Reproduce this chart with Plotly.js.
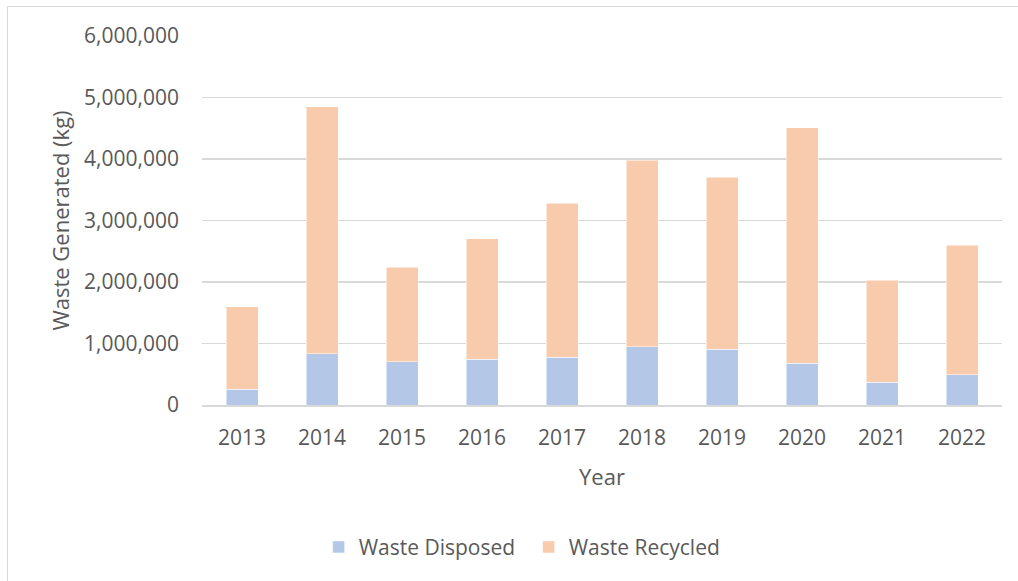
<!DOCTYPE html>
<html>
<head>
<meta charset="utf-8">
<script src="https://cdn.plot.ly/plotly-3.0.1.min.js"></script>
<style>
  html, body { margin: 0; padding: 0; background: #fff; }
  #chart { width: 1018px; height: 581px; position: relative; }
  #frame { position: absolute; left: 7px; top: 6px; width: 1100px; height: 700px;
           border: 1.5px solid #d9d9d9; pointer-events: none; box-sizing: border-box; }
</style>
</head>
<body>
<div id="chart"></div>
<div id="frame"></div>
<script>
const years = ["2013","2014","2015","2016","2017","2018","2019","2020","2021","2022"];
const wasteDisposed = [260000, 830000, 700000, 740000, 780000, 950000, 910000, 680000, 370000, 490000];
const wasteRecycled = [1340000, 4020000, 1540000, 1960000, 2500000, 3030000, 2790000, 3830000, 1660000, 2110000];
const yTickVals = [0, 1000000, 2000000, 3000000, 4000000, 5000000, 6000000];
const yTickText = ["0", "1,000,000", "2,000,000", "3,000,000", "4,000,000", "5,000,000", "6,000,000"];

const FONT = "'Open Sans', 'Noto Sans', sans-serif";
const GREY = "#595959";

const traces = [
  { type: "bar", name: "Waste Disposed", x: years, y: wasteDisposed,
    marker: { color: "#b4c7e7", line: { color: "#ffffff", width: 0.5 } }, hoverinfo: "x+y" },
  { type: "bar", name: "Waste Recycled", x: years, y: wasteRecycled,
    marker: { color: "#f8cbad", line: { color: "#ffffff", width: 0.5 } }, hoverinfo: "x+y" }
];

const layout = {
  width: 1018, height: 581,
  barmode: "stack",
  bargap: 0.6,
  paper_bgcolor: "rgba(0,0,0,0)",
  plot_bgcolor: "#ffffff",
  margin: { l: 202, r: 16, t: 36, b: 176, pad: 0 },
  font: { family: FONT, color: GREY, size: 21 },
  xaxis: {
    type: "category",
    tickfont: { family: FONT, size: 21, color: GREY },
    ticks: "outside", ticklen: 13, tickcolor: "rgba(0,0,0,0)",
    showgrid: false, zeroline: false,
    showline: true, linecolor: "#d9d9d9", linewidth: 1.5,
    title: { text: "Year", font: { family: FONT, size: 22, color: GREY }, standoff: 20 }
  },
  yaxis: {
    range: [0, 6000000],
    tickvals: yTickVals, ticktext: yTickText,
    tickfont: { family: FONT, size: 21, color: GREY },
    ticks: "", ticklabelstandoff: 22,
    showgrid: true, gridcolor: "#d9d9d9", gridwidth: 1.5,
    zeroline: false, showline: false,
    title: { text: "Waste Generated (kg)", font: { family: FONT, size: 22, color: GREY }, standoff: 8 }
  },
  showlegend: true,
  legend: {
    orientation: "h",
    xref: "container", yref: "container",
    x: 0.313, xanchor: "left",
    y: 0.058, yanchor: "middle",
    font: { family: FONT, size: 21, color: GREY },
    itemwidth: 30,
    entrywidth: 165,
    traceorder: "normal"
  }
};

Plotly.newPlot("chart", traces, layout, { displayModeBar: false, staticPlot: true });
</script>
</body>
</html>
